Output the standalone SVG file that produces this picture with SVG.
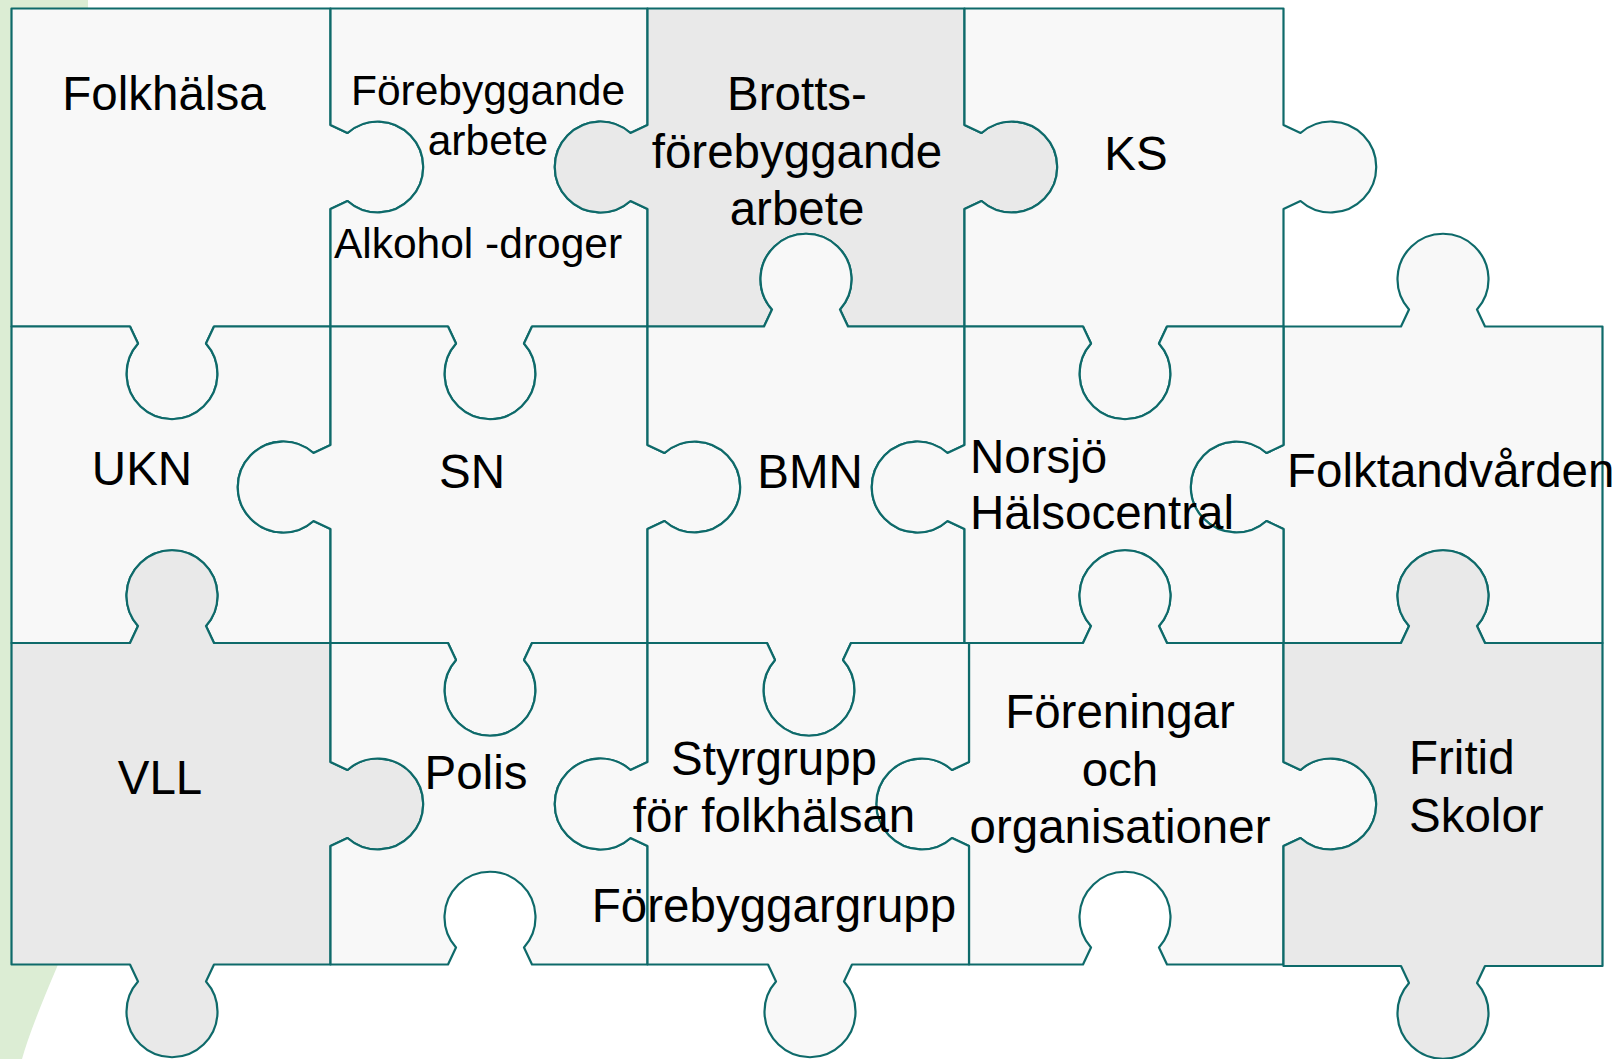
<svg xmlns="http://www.w3.org/2000/svg" width="1619" height="1059" viewBox="0 0 1619 1059">
<style>
.p{stroke:#0e6a6a;stroke-width:2.2;stroke-linejoin:round}
.l{fill:#f8f8f8}
.g{fill:#e9e9e9}
text{font-family:"Liberation Sans",Arial,sans-serif;font-size:47.5px;fill:#000}
.s{font-size:42.5px}
.m{text-anchor:middle}
</style>
<rect width="1619" height="1059" fill="#ffffff"/>
<path id="bg" d="M0,0 H88 V720 Q80,900 57,967 Q30,1030 22,1059 H0 Z" fill="#dcedd4"/>

<g id="folkhalsa">
<path class="p l" d="M11.5,8.5 H330.5 V125 l17,8 a45.5 45.5 0 1 1 0,68 l-17,8 V326.5 H214 l-8,17 a45.5 45.5 0 1 1 -68,0 l-8,-17 H11.5 Z"/>
<text class="m" x="164" y="110">Folkhälsa</text>
</g>

<g id="forebyggande">
<path class="p l" d="M330.5,8.5 H647.5 V125 l-17,8 a45.5 45.5 0 1 0 0,68 l17,8 V326.5 H532 l-8,17 a45.5 45.5 0 1 1 -68,0 l-8,-17 H330.5 V209 l17,-8 a45.5 45.5 0 1 0 0,-68 l-17,-8 Z"/>
<text class="m s" x="488" y="105">Förebyggande</text>
<text class="m s" x="488" y="155">arbete</text>
<text class="m s" x="478" y="258">Alkohol -droger</text>
</g>

<g id="brotts">
<path class="p g" d="M647.5,8.5 H964.5 V125 l17,8 a45.5 45.5 0 1 1 0,68 l-17,8 V326.5 H848 l-8,-17 a45.5 45.5 0 1 0 -68,0 l-8,17 H647.5 V209 l-17,-8 a45.5 45.5 0 1 1 0,-68 l17,-8 Z"/>
<text class="m" x="797" y="110">Brotts-</text>
<text class="m" x="797" y="168">förebyggande</text>
<text class="m" x="797" y="225">arbete</text>
</g>

<g id="ks">
<path class="p l" d="M964.5,8.5 H1283.5 V125 l17,8 a45.5 45.5 0 1 1 0,68 l-17,8 V326.5 H1167 l-8,17 a45.5 45.5 0 1 1 -68,0 l-8,-17 H964.5 V209 l17,-8 a45.5 45.5 0 1 0 0,-68 l-17,-8 Z"/>
<text class="m" x="1136" y="170">KS</text>
</g>

<g id="ukn">
<path class="p l" d="M11.5,326.5 H130 l8,17 a45.5 45.5 0 1 0 68,0 l8,-17 H330.5 V445 l-17,8 a45.5 45.5 0 1 0 0,68 l17,8 V643 H214 l-8,-17 a45.5 45.5 0 1 0 -68,0 l-8,17 H11.5 Z"/>
<text class="m" x="142" y="485">UKN</text>
</g>

<g id="sn">
<path class="p l" d="M330.5,326.5 H448 l8,17 a45.5 45.5 0 1 0 68,0 l8,-17 H647.5 V445 l17,8 a45.5 45.5 0 1 1 0,68 l-17,8 V643 H532 l-8,17 a45.5 45.5 0 1 1 -68,0 l-8,-17 H330.5 V529 l-17,-8 a45.5 45.5 0 1 1 0,-68 l17,-8 Z"/>
<text class="m" x="472" y="488">SN</text>
</g>

<g id="bmn">
<path class="p l" d="M647.5,326.5 H764 l8,-17 a45.5 45.5 0 1 1 68,0 l8,17 H964.5 V445 l-17,8 a45.5 45.5 0 1 0 0,68 l17,8 V643 H851 l-8,17 a45.5 45.5 0 1 1 -68,0 l-8,-17 H647.5 V529 l17,-8 a45.5 45.5 0 1 0 0,-68 l-17,-8 Z"/>
<text class="m" x="810" y="488">BMN</text>
</g>

<g id="folktandvarden">
<path class="p l" d="M1283.5,326.5 H1401 l8,-17 a45.5 45.5 0 1 1 68,0 l8,17 H1602.5 V643 H1485 l-8,-17 a45.5 45.5 0 1 0 -68,0 l-8,17 H1283.5 V529 l-17,-8 a45.5 45.5 0 1 1 0,-68 l17,-8 Z"/>
<text x="1287" y="487">Folktandvården</text>
</g>

<g id="norsjo">
<path class="p l" d="M964.5,326.5 H1083 l8,17 a45.5 45.5 0 1 0 68,0 l8,-17 H1283.5 V445 l-17,8 a45.5 45.5 0 1 0 0,68 l17,8 V643 H1167 l-8,-17 a45.5 45.5 0 1 0 -68,0 l-8,17 H964.5 V529 l-17,-8 a45.5 45.5 0 1 1 0,-68 l17,-8 Z"/>
<text x="970" y="473">Norsjö</text>
<text x="970" y="529">Hälsocentral</text>
</g>

<g id="vll">
<path class="p g" d="M11.5,643 H130 l8,-17 a45.5 45.5 0 1 1 68,0 l8,17 H330.5 V762 l17,8 a45.5 45.5 0 1 1 0,68 l-17,8 V964.5 H214 l-8,17 a45.5 45.5 0 1 1 -68,0 l-8,-17 H11.5 Z"/>
<text class="m" x="160" y="794">VLL</text>
</g>

<g id="polis">
<path class="p l" d="M330.5,643 H448 l8,17 a45.5 45.5 0 1 0 68,0 l8,-17 H647.5 V762 l-17,8 a45.5 45.5 0 1 0 0,68 l17,8 V964.5 H532 l-8,-17 a45.5 45.5 0 1 0 -68,0 l-8,17 H330.5 V846 l17,-8 a45.5 45.5 0 1 0 0,-68 l-17,-8 Z"/>
<text class="m" x="476" y="789">Polis</text>
</g>

<g id="foreningar">
<path class="p l" d="M969,643 H1083 l8,-17 a45.5 45.5 0 1 1 68,0 l8,17 H1283.5 V762 l17,8 a45.5 45.5 0 1 1 0,68 l-17,8 V964.5 H1167 l-8,-17 a45.5 45.5 0 1 0 -68,0 l-8,17 H969 V846 l-17,-8 a45.5 45.5 0 1 1 0,-68 l17,-8 Z"/>
<text class="m" x="1120" y="728">Föreningar</text>
<text class="m" x="1120" y="786">och</text>
<text class="m" x="1120" y="843">organisationer</text>
</g>

<g id="styrgrupp">
<path class="p l" d="M647.5,643 H767 l8,17 a45.5 45.5 0 1 0 68,0 l8,-17 H969 V762 l-17,8 a45.5 45.5 0 1 0 0,68 l17,8 V964.5 H852 l-8,17 a45.5 45.5 0 1 1 -68,0 l-8,-17 H647.5 V846 l-17,-8 a45.5 45.5 0 1 1 0,-68 l17,-8 Z"/>
<text class="m" x="774" y="775">Styrgrupp</text>
<text class="m" x="774" y="832">för folkhälsan</text>
<text class="m" x="774" y="922">Förebyggargrupp</text>
</g>

<g id="fritid">
<path class="p g" d="M1283.5,643 H1401 l8,-17 a45.5 45.5 0 1 1 68,0 l8,17 H1602.5 V966 H1485 l-8,17 a45.5 45.5 0 1 1 -68,0 l-8,-17 H1283.5 V846 l17,-8 a45.5 45.5 0 1 0 0,-68 l-17,-8 Z"/>
<text x="1409" y="774">Fritid</text>
<text x="1409" y="832">Skolor</text>
</g>
</svg>
